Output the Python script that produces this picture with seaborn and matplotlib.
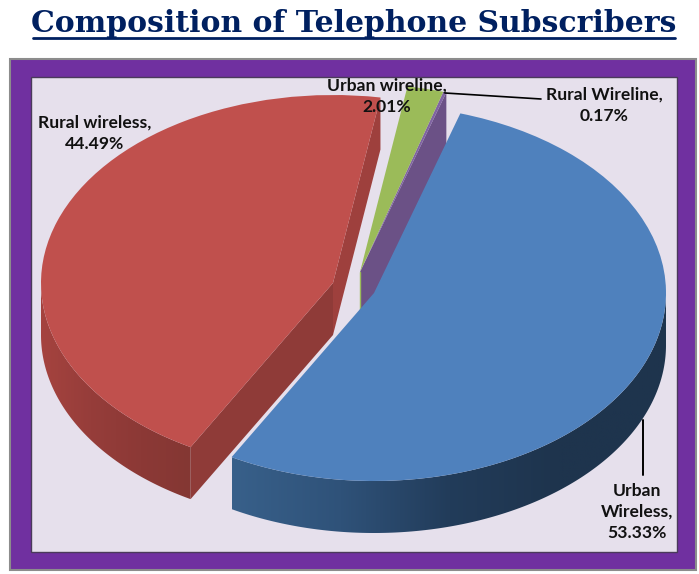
import numpy as np
import matplotlib
matplotlib.use("Agg")
import matplotlib.pyplot as plt
from matplotlib.patches import Rectangle, Polygon
from matplotlib.colors import LinearSegmentedColormap
from matplotlib.transforms import Affine2D
import seaborn as sns

# slices, clockwise from the top
names = ["Urban\nWireless", "Rural wireless", "Urban wireline", "Rural Wireline"]
shares = [53.33, 44.49, 2.01, 0.17]
top_colors = ["#4f81bd", "#c0504d", "#9bbb59", "#8064a2"]
title = "Composition of Telephone Subscribers"

# look of the fake 3d pie, in pixels
centers = [(374, 293), (333, 283), (360, 272), (360, 272)]
rx, ry = 292, 188
depth = 52
start = 72.8
label_pos = [(637, 512), (95, 133), (387, 96), (604, 105)]
wall_colors = {
    0: ["#38608a", "#2f5279", "#223c5a", "#1e344d", "#1e344d"],
    1: ["#a5433f", "#963d3a", "#8c3936", "#843733"],
}

sns.set_theme(style="white")
plt.rcParams["font.family"] = ["Lato", "DejaVu Sans"]

fig, ax = plt.subplots(figsize=(6.99, 5.74), dpi=100)
fig.subplots_adjust(0, 0, 1, 1)

wedges, _ = ax.pie(shares, colors=top_colors, startangle=start, counterclock=False)

# frame
ax.add_patch(Rectangle((10, 59), 686, 511, fc="#7030a0", ec="#8c8c8c", lw=1.5, zorder=0))
ax.add_patch(Rectangle((31, 77), 646, 475, fc="#e6e0ec", ec="#4a3a5a", lw=1, zorder=0.5))


def rim(center, angle, drop=0):
    t = np.radians(angle)
    return center[0] + rx * np.cos(t), center[1] - ry * np.sin(t) + drop


def cut_wall(i, angle, color, z):
    c = centers[i]
    x0, y0 = rim(c, angle)
    x1, y1 = rim(c, angle, depth)
    ax.fill([c[0], x0, x1, c[0]], [c[1], y0, y1, c[1] + depth], color=color, lw=0, zorder=z)


# z order: back slices first, blue last
order = {3: 2, 2: 2.5, 1: 3, 0: 4}

# inner cut faces
cut_wall(3, wedges[3].theta1, "#6b5186", order[3])
cut_wall(1, wedges[1].theta1, "#9e403d", order[1])
cut_wall(1, wedges[1].theta2, "#8f3b38", order[1])
ax.plot([centers[2][0]] * 2, [centers[2][1], centers[2][1] + 40], color=top_colors[2], lw=1, zorder=order[2])

# outer side walls, a horizontal gradient clipped to the arc band
for i, cols in wall_colors.items():
    c = centers[i]
    angles = np.linspace(wedges[i].theta1, wedges[i].theta2, 300)
    angles = angles[np.sin(np.radians(angles)) <= 0]
    top = np.array([rim(c, a) for a in angles])
    low = np.array([rim(c, a, depth) for a in angles])
    band = Polygon(np.vstack([top, low[::-1]]), closed=True, fc="none", ec="none", transform=ax.transData)
    ax.add_patch(band)
    cmap = LinearSegmentedColormap.from_list(f"wall{i}", cols)
    im = ax.imshow(np.linspace(0, 1, 256)[None, :], cmap=cmap, aspect="auto", zorder=order[i],
                   extent=[top[:, 0].min(), top[:, 0].max(), low[:, 1].max(), top[:, 1].min()])
    im.set_clip_path(band)

# top faces from the pie itself
for i, w in enumerate(wedges):
    w.set_transform(Affine2D().scale(rx, -ry).translate(*centers[i]) + ax.transData)
    w.set_zorder(order[i] + 0.5)
    w.set_linewidth(0)

# labels
for i, (name, share) in enumerate(zip(names, shares)):
    ax.text(label_pos[i][0], label_pos[i][1], f"{name},\n{share:.2f}%", ha="center", va="center",
            fontsize=12.6, fontweight="bold", color="#111111", linespacing=1.4, zorder=8)

# leader lines
ax.plot([445, 541], [93, 99], color="black", lw=1.2, zorder=7)
ax.plot([643, 643], [420, 475], color="black", lw=1.4, zorder=7)

ax.text(354, 24, title, ha="center", va="center", fontsize=21.5, fontweight="bold",
        family="DejaVu Serif", color="#002060", zorder=8)
ax.plot([33, 675], [37.5, 37.5], color="#002060", lw=2, zorder=8)

ax.set_xlim(0, 699)
ax.set_ylim(574, 0)
ax.set_aspect("auto")
ax.axis("off")

fig.savefig("out.png", dpi=100)
